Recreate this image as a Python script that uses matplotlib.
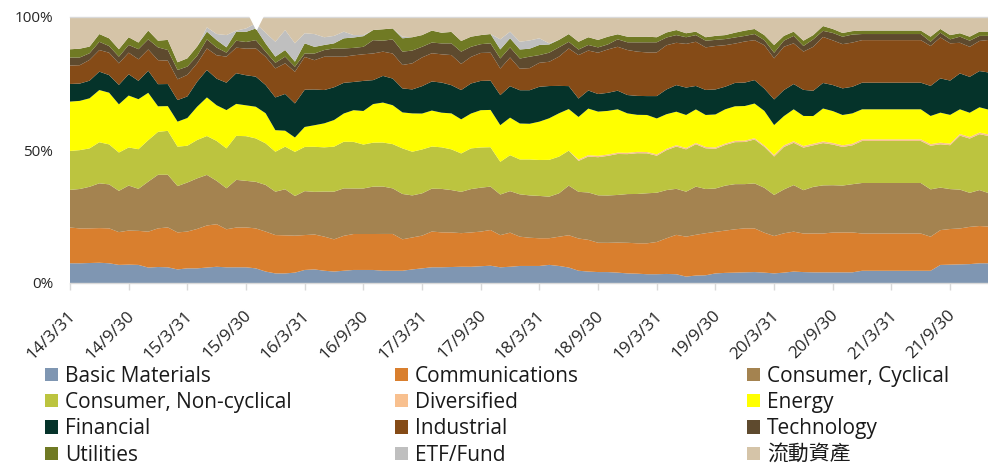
import matplotlib
matplotlib.use("Agg")
import matplotlib.pyplot as plt
from matplotlib.patches import Patch
from matplotlib.transforms import ScaledTranslation
import numpy as np

plt.rcParams['font.family'] = ['Open Sans', 'Noto Sans CJK TC', 'DejaVu Sans']

# ---- data: monthly portfolio weights (%), 2014/3/31 .. 2022/1/31 ----
basic_materials = [7.4,7.4,7.5,7.6,7.4,6.8,6.9,6.8,5.8,6.0,5.9,5.1,5.5,5.5,5.8,6.1,5.9,5.9,5.9,5.5,
                   4.3,3.6,3.6,3.9,4.9,5.1,4.6,4.3,4.6,4.9,4.9,4.9,4.6,4.6,4.6,5.1,5.5,5.9,5.9,6.0,
                   6.1,6.1,6.3,6.5,5.9,6.1,6.4,6.4,6.4,6.8,6.4,5.8,4.6,4.3,4.1,4.1,3.9,3.6,3.5,3.3,
                   3.3,3.4,3.3,2.4,2.8,2.9,3.6,3.8,3.9,4.0,4.1,3.9,3.6,3.9,4.3,4.1,4.0,4.0,4.0,4.0,
                   4.0,4.6,4.6,4.6,4.6,4.6,4.6,4.6,4.6,6.8,6.9,7.0,7.1,7.4,7.4]
communications = [13.4,13.1,13.0,13.0,13.1,12.3,12.8,12.8,13.5,14.5,15.0,13.9,13.8,14.8,15.8,16.0,14.3,14.9,15.0,15.0,
                  15.0,14.4,14.3,13.9,13.1,13.1,12.8,12.1,13.1,13.5,13.5,13.5,13.8,13.8,11.8,12.0,12.3,13.4,13.1,13.0,
                  12.6,12.9,13.0,13.4,12.1,12.8,11.0,10.6,10.4,10.0,11.0,12.1,12.1,11.9,11.0,11.0,11.3,11.5,11.4,11.6,
                  12.1,13.4,14.8,15.0,15.3,15.8,15.6,15.9,16.3,16.5,16.4,15.0,14.0,14.8,15.0,14.5,14.6,14.6,15.0,15.0,
                  15.0,14.0,14.0,14.0,14.0,14.0,14.0,14.0,12.8,13.1,13.4,13.5,14.0,14.0,13.8]
consumer_cyclical = [14.1,14.8,15.6,16.8,16.5,15.5,16.9,15.8,18.8,20.1,19.8,17.4,18.4,19.0,19.0,16.3,15.4,17.9,17.5,17.5,
                     17.5,16.3,17.3,14.9,16.5,16.0,16.9,17.9,17.8,17.1,17.1,17.8,17.8,17.1,17.0,15.8,15.9,16.1,16.3,15.9,
                     15.5,16.3,16.5,16.3,15.3,15.6,15.9,15.9,15.9,15.6,16.3,18.6,17.5,17.8,17.8,17.8,17.9,18.3,18.5,18.8,
                     18.5,18.1,17.3,16.9,18.1,16.6,16.3,16.9,17.0,16.6,16.9,16.9,15.4,16.5,17.5,16.3,17.5,18.1,17.8,17.6,
                     18.1,19.0,19.0,19.0,19.0,19.0,19.0,19.0,17.8,16.0,15.0,14.6,12.8,13.5,12.5]
consumer_noncyclical = [14.6,14.6,14.4,15.4,15.0,14.4,14.3,14.9,15.6,16.1,16.5,14.8,13.8,14.4,14.6,15.0,15.0,16.5,16.8,16.3,
                        15.6,15.0,16.0,16.6,16.6,16.9,16.6,16.9,17.5,17.5,16.5,16.5,16.5,16.6,17.1,16.4,16.5,15.8,15.6,15.3,
                        14.4,15.3,15.1,14.8,12.3,13.5,13.1,13.5,13.5,13.8,13.8,13.1,11.6,13.5,14.3,14.9,15.4,15.0,15.3,15.0,
                        13.9,15.0,15.9,15.9,15.9,15.3,14.9,15.3,15.8,15.8,16.5,15.4,14.4,16.0,15.9,16.0,15.6,15.9,15.3,14.5,
                        14.6,15.8,15.8,15.8,15.8,15.8,15.8,15.8,16.4,16.3,16.5,20.3,20.4,21.0,21.5]
diversified = [0.0]*52 + [0.5]*20 + [0.6]*23
energy = [18.5,18.5,18.8,19.6,19.4,18.1,19.5,18.8,17.8,9.6,9.3,9.4,10.4,12.5,14.5,13.4,14.4,12.0,11.6,11.9,
          11.3,8.1,6.0,5.4,7.5,8.1,9.0,10.0,10.6,11.9,12.6,14.5,15.0,14.6,13.5,14.4,13.5,13.5,13.0,13.5,
          12.8,13.1,14.0,14.0,13.8,14.1,13.5,13.4,14.4,15.6,16.3,15.6,16.0,17.5,16.6,16.4,16.3,14.8,13.9,13.9,
          13.5,13.0,12.6,12.4,12.6,12.0,12.4,12.9,13.0,13.0,13.0,13.0,11.2,11.0,12.0,11.3,10.4,12.4,12.0,11.4,
          11.4,11.3,11.3,11.3,11.3,11.3,11.3,11.3,10.6,11.3,10.8,9.3,9.1,9.5,9.3]
financial = [6.6,6.5,6.6,6.9,6.6,7.3,8.0,6.9,8.3,8.3,8.3,8.1,8.1,9.4,10.3,10.0,10.3,11.5,11.3,11.3,
             10.6,12.3,13.8,12.8,14.0,13.4,12.5,12.3,11.5,10.6,11.3,9.0,10.0,10.0,9.0,9.0,10.3,10.9,11.3,10.6,
             11.0,11.3,11.0,11.0,11.3,11.8,12.5,12.6,13.1,12.1,10.3,8.6,6.9,6.8,6.6,6.8,7.0,6.9,7.1,7.1,
             8.4,9.3,10.0,10.3,8.8,9.4,9.4,8.5,8.8,8.8,8.8,8.4,9.6,9.8,9.5,9.8,9.5,9.6,9.8,10.0,
             10.0,10.0,10.0,10.0,10.0,10.0,10.0,10.0,11.3,12.9,12.9,13.5,13.5,13.6,14.0]
industrial = [6.9,6.9,7.8,8.1,8.4,8.1,8.1,8.1,8.0,9.0,8.8,7.8,8.1,6.9,8.1,8.8,9.8,9.6,10.0,10.6,
              10.6,10.9,11.5,11.9,12.3,11.0,12.5,11.5,9.8,10.0,10.0,10.0,9.1,9.4,8.8,9.8,10.8,10.6,10.6,11.3,
              9.8,10.0,10.5,10.5,10.0,10.8,8.1,8.3,9.0,9.1,11.0,14.1,16.3,15.0,15.5,16.3,16.5,16.9,16.6,16.4,
              16.4,16.6,15.9,16.4,16.6,16.0,16.3,15.6,14.8,15.4,15.0,16.3,15.4,16.3,15.3,14.4,16.5,17.3,16.8,16.6,
              16.6,16.0,16.0,16.0,16.0,16.0,16.0,16.0,15.0,15.4,14.0,11.5,11.3,11.3,12.3]
technology = [3.0,2.9,2.5,3.1,2.5,2.5,2.9,3.8,3.8,4.8,4.0,3.5,3.1,2.8,3.4,2.9,1.5,2.6,2.5,3.1,
              1.9,2.1,2.5,1.9,1.3,2.5,2.5,3.1,3.1,2.8,2.8,5.0,4.1,5.3,5.0,4.8,4.0,4.0,4.1,4.4,
              4.6,3.8,3.3,3.5,3.8,3.8,3.8,4.3,2.9,3.4,3.5,2.5,2.1,2.1,2.0,1.9,2.8,2.9,3.5,3.8,
              3.8,2.9,2.9,2.5,2.5,2.5,2.3,2.3,2.3,2.1,2.3,1.9,2.1,2.3,2.8,2.1,2.8,2.3,2.8,2.8,
              3.0,2.3,2.3,2.3,2.3,2.3,2.3,2.3,1.6,1.8,1.5,2.3,2.3,1.9,1.5]
utilities = [3.1,3.3,2.5,2.9,2.9,2.8,2.9,2.5,3.3,2.5,3.8,2.9,3.1,3.5,2.9,2.8,2.0,3.4,3.8,4.4,
             3.1,2.3,2.5,1.9,3.8,2.5,1.9,1.9,3.8,3.9,4.0,3.8,4.3,4.1,5.0,5.0,4.4,4.5,4.0,4.3,
             4.0,3.8,3.4,3.5,3.4,3.4,3.4,3.0,3.8,3.1,2.8,2.9,2.9,2.9,2.8,2.9,1.9,2.1,2.1,2.1,
             1.9,1.9,1.9,1.5,1.3,1.3,1.5,1.5,1.8,2.0,1.9,1.9,2.9,1.8,1.6,2.0,1.6,1.8,1.5,1.4,
             1.3,1.3,1.3,1.3,1.3,1.3,1.3,1.3,1.9,1.4,1.6,1.3,1.5,1.6,1.6]
etf_fund = [0,0,0,0,0,0,0,0,0,0,0,0,0,0,1.6,2.3,4.6,0.4,1.3,1.9,
            4.0,5.6,7.5,6.9,3.8,4.8,2.9,2.8,2.5,0.9,0.4,0,0,0,0.6,0,0,0,0,0,
            0,0,0,0,3.8,2.5,2.9,3.1,2.5,0.4] + [0.0]*45
liquid_assets = [12.1,11.9,11.1,6.4,8.0,12.1,7.6,9.6,5.1,8.9,8.6,17.0,15.5,11.1,3.9,6.4,6.8,5.1,4.3,2.4,
                 5.9,9.3,4.9,9.9,6.1,6.4,7.6,7.1,5.5,6.8,6.8,4.9,4.6,4.3,7.4,7.6,6.8,5.1,5.9,5.6,
                 9.0,7.4,6.8,6.4,8.4,5.5,9.3,8.8,8.0,9.9,8.6,6.4,9.3,7.6,8.6,7.4,6.5,7.4,7.4,7.4,
                 7.6,5.8,4.9,6.1,5.5,7.6,7.1,6.8,5.9,5.1,4.5,6.8,10.5,7.1,5.5,8.9,6.8,3.4,4.5,6.0,
                 5.3,5.1,5.1,5.1,5.1,5.1,5.1,5.1,7.4,4.5,6.8,6.1,7.4,5.5,5.5]

series_names = ['Basic Materials', 'Communications', 'Consumer, Cyclical', 'Consumer, Non-cyclical',
                'Diversified', 'Energy', 'Financial', 'Industrial', 'Technology', 'Utilities',
                'ETF/Fund', '流動資產']
series_colors = ['#7F96B2', '#D97F2E', '#A48350', '#BCC43F', '#F8C08F', '#FFFF00',
                 '#05332A', '#854B17', '#5E4A2E', '#707A24', '#BFBFBF', '#D5C4A8']
tick_labels = ['14/3/31', '14/9/30', '15/3/31', '15/9/30', '16/3/31', '16/9/30', '17/3/31', '17/9/30',
               '18/3/31', '18/9/30', '19/3/31', '19/9/30', '20/3/31', '20/9/30', '21/3/31', '21/9/30']
marker_month = 19      # white flag marker at top of chart
marker_level = 98.4

# ---- build ----
data = np.array([basic_materials, communications, consumer_cyclical, consumer_noncyclical,
                 diversified, energy, financial, industrial, technology, utilities,
                 etf_fund, liquid_assets], dtype=float)
data = data / data.sum(axis=0) * 100.0   # 100% stacked
months = np.arange(data.shape[1])

fig = plt.figure(figsize=(9.88, 4.67), dpi=100)
ax = fig.add_axes([70/988, 1-283/467, 918/988, 266/467])
ax.stackplot(months, data, colors=series_colors, linewidth=0)
ax.plot([marker_month], [marker_level], marker='v', color='white', markersize=12,
        clip_on=False, zorder=5, linestyle='none')

ax.set_xlim(0, 93.87)
ax.set_ylim(0, 100)
ax.set_yticks([0, 50, 100])
ax.set_yticklabels(['0%', '50%', '100%'])
ax.tick_params(axis='y', length=0, pad=12, labelsize=11, labelcolor='#262626')
ax.set_xticks(np.arange(len(tick_labels)) * 6)
ax.set_xticklabels(tick_labels, rotation=45, ha='right', va='center', rotation_mode='anchor')
ax.tick_params(axis='x', length=5, width=1, color='#D9D9D9', pad=11, labelsize=12.3, labelcolor='#262626')
shift = ScaledTranslation(3/100, -8/100, fig.dpi_scale_trans)
for lab in ax.get_xticklabels():
    lab.set_transform(lab.get_transform() + shift)
for s in ['left', 'right']:
    ax.spines[s].set_visible(False)
for s in ['top', 'bottom']:
    ax.spines[s].set_color('#D9D9D9')
    ax.spines[s].set_linewidth(1)

handles = [Patch(facecolor=c, edgecolor='none') for c in series_colors]
col_x = [45/988, 395/988, 747/988]
for ci in range(3):
    idx = [ci + 3*r for r in range(4)]
    fig.legend([handles[i] for i in idx], [series_names[i] for i in idx],
               loc='upper left', bbox_to_anchor=(col_x[ci], 1-366/467),
               frameon=False, fontsize=15, handlelength=0.6, handleheight=0.6,
               handletextpad=0.36, labelspacing=0.25, borderpad=0, borderaxespad=0,
               labelcolor='#1a1a1a')

fig.savefig('out.png', dpi=100)
